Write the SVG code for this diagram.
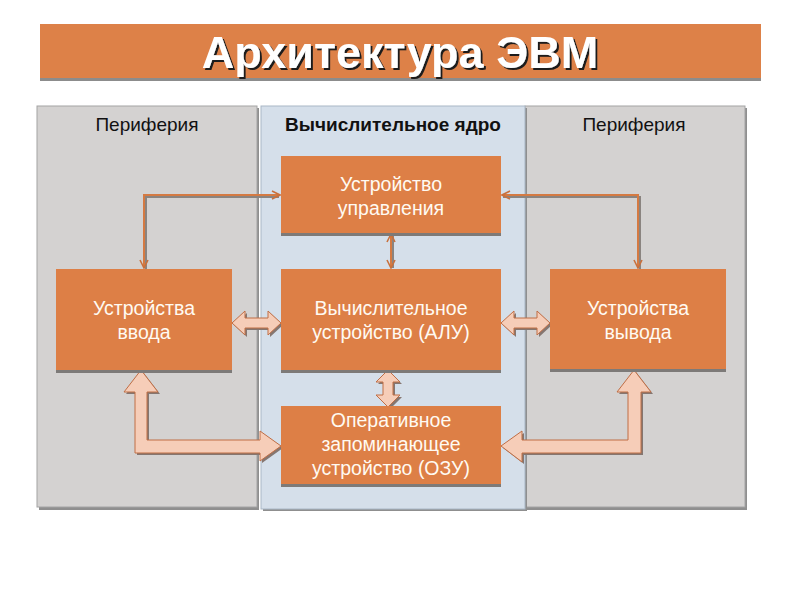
<svg xmlns="http://www.w3.org/2000/svg" width="800" height="600" viewBox="0 0 800 600">
<defs>
<style>
.t{font-family:"Liberation Sans",Arial,sans-serif;}
.box{fill:#dd7f46;}
.bsh{fill:#7d7a78;}
.bt{font-family:"Liberation Sans",Arial,sans-serif;font-size:19.5px;fill:#fffaf2;text-anchor:middle;}
.pl{font-family:"Liberation Sans",Arial,sans-serif;font-size:19px;fill:#111;text-anchor:middle;}
.blk{fill:#f6cdb8;stroke:#c06e45;stroke-width:1;}
.blksh{fill:#857670;}
.ln{fill:none;stroke:#d57a42;stroke-width:2;}
.lnsh{fill:none;stroke:#8a8480;stroke-width:2;}
</style>
<filter id="tsh" x="-5%" y="-20%" width="110%" height="140%">
<feDropShadow dx="2" dy="2" stdDeviation="0.6" flood-color="#1e1e1e" flood-opacity="1"/>
</filter>
<marker id="ah" viewBox="0 0 10 10" refX="9" refY="5" markerWidth="10" markerHeight="10" markerUnits="userSpaceOnUse" orient="auto-start-reverse">
<path d="M1,1 L9,5 L1,9" fill="none" stroke="#c9703c" stroke-width="1.6"/>
</marker>
</defs>
<rect width="800" height="600" fill="#ffffff"/>

<g id="title">
<rect x="40" y="27" width="721" height="54" fill="#8c8c8c"/>
<rect x="40" y="24" width="721" height="54" fill="#dd8148"/>
<text x="400" y="68" class="t" font-size="45" font-weight="bold" fill="#ffffff" text-anchor="middle" filter="url(#tsh)">Архитектура ЭВМ</text>
</g>

<g id="panel-left">
<rect x="39" y="108" width="220" height="402" fill="#8f8f8f"/>
<rect x="37" y="106" width="220" height="401" fill="#d4d2d1" stroke="#a4a4a4" stroke-width="1"/>
<text x="147" y="131" class="pl">Периферия</text>
</g>
<g id="panel-right">
<rect x="527" y="108" width="220" height="402" fill="#8f8f8f"/>
<rect x="525" y="106" width="220" height="401" fill="#d4d2d1" stroke="#a4a4a4" stroke-width="1"/>
<text x="634" y="131" class="pl">Периферия</text>
</g>
<g id="panel-core">
<rect x="263" y="108" width="264" height="403" fill="#8f8f8f"/>
<rect x="261" y="106" width="264" height="403" fill="#d5dfea" stroke="#a9b7c6" stroke-width="1"/>
<text x="393" y="131" class="pl" font-weight="bold">Вычислительное ядро</text>
</g>

<g id="connectors">
<polyline class="lnsh" points="146,270 146,197 279,197"/>
<polyline class="ln" points="144,268 144,195 280,195" marker-start="url(#ah)" marker-end="url(#ah)"/>
<polyline class="lnsh" points="640,270 640,197 503,197"/>
<polyline class="ln" points="638,268 638,195 502,195" marker-start="url(#ah)" marker-end="url(#ah)"/>
<line class="lnsh" x1="393" y1="236" x2="393" y2="268"/>
<line class="ln" x1="391" y1="234" x2="391" y2="268" marker-start="url(#ah)" marker-end="url(#ah)"/>

<g transform="translate(2,2)">
<path class="blksh" d="M232,323 L245,311 L245,318 L268,318 L268,311 L281,323 L268,335 L268,328 L245,328 L245,335 Z"/>
<path class="blksh" d="M501,323 L514,311 L514,318 L537,318 L537,311 L550,323 L537,335 L537,328 L514,328 L514,335 Z"/>
<path class="blksh" d="M388,370 L400,382 L393,382 L393,395 L400,395 L388,407 L376,395 L383,395 L383,382 L376,382 Z"/>
<path class="blksh" d="M141,370 L158,392 L147,392 L147,440 L260,440 L260,431 L281,446 L260,461 L260,453 L135,453 L135,392 L124,392 Z"/>
<path class="blksh" d="M634,370 L651,392 L641,392 L641,453 L522,453 L522,462 L501,446 L522,431 L522,440 L628,440 L628,392 L617,392 Z"/>
</g>
<path class="blk" d="M232,323 L245,311 L245,318 L268,318 L268,311 L281,323 L268,335 L268,328 L245,328 L245,335 Z"/>
<path class="blk" d="M501,323 L514,311 L514,318 L537,318 L537,311 L550,323 L537,335 L537,328 L514,328 L514,335 Z"/>
<path class="blk" d="M388,370 L400,382 L393,382 L393,395 L400,395 L388,407 L376,395 L383,395 L383,382 L376,382 Z"/>
<path class="blk" d="M141,370 L158,392 L147,392 L147,440 L260,440 L260,431 L281,446 L260,461 L260,453 L135,453 L135,392 L124,392 Z"/>
<path class="blk" d="M634,370 L651,392 L641,392 L641,453 L522,453 L522,462 L501,446 L522,431 L522,440 L628,440 L628,392 L617,392 Z"/>
</g>

<g id="control-unit">
<rect class="bsh" x="281" y="159" width="220" height="77"/>
<rect class="box" x="281" y="156" width="220" height="77"/>
<text x="391" y="191" class="bt">Устройство</text>
<text x="391" y="215" class="bt">управления</text>
</g>
<g id="input-devices">
<rect class="bsh" x="56" y="272" width="176" height="101"/>
<rect class="box" x="56" y="269" width="176" height="101"/>
<text x="144" y="315" class="bt">Устройства</text>
<text x="144" y="339" class="bt">ввода</text>
</g>
<g id="alu">
<rect class="bsh" x="281" y="272" width="220" height="101"/>
<rect class="box" x="281" y="269" width="220" height="101"/>
<text x="391" y="315" class="bt">Вычислительное</text>
<text x="391" y="339" class="bt">устройство (АЛУ)</text>
</g>
<g id="output-devices">
<rect class="bsh" x="550" y="272" width="176" height="100"/>
<rect class="box" x="550" y="269" width="176" height="100"/>
<text x="638" y="315" class="bt">Устройства</text>
<text x="638" y="339" class="bt">вывода</text>
</g>
<g id="ram">
<rect class="bsh" x="281" y="409" width="220" height="78"/>
<rect class="box" x="281" y="406" width="220" height="78"/>
<text x="391" y="427" class="bt">Оперативное</text>
<text x="391" y="451" class="bt">запоминающее</text>
<text x="391" y="475" class="bt">устройство (ОЗУ)</text>
</g>
</svg>
